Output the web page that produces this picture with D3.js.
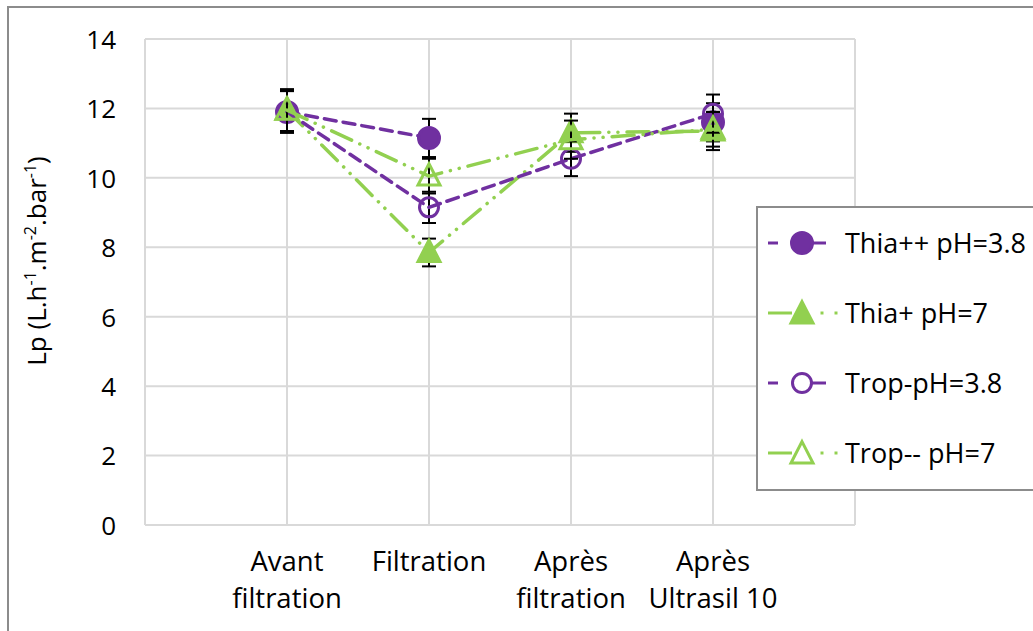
<!DOCTYPE html>
<html><head><meta charset="utf-8">
<script src="https://cdn.jsdelivr.net/npm/d3@7"></script>
<style>body{margin:0;background:#fff;}svg{display:block;font-family:"Open Sans","Noto Sans",sans-serif;}</style>
</head><body>
<svg id="c" width="1033" height="631"></svg>
<script>
const categories = [["Avant","filtration"],["Filtration"],["Après","filtration"],["Après","Ultrasil 10"]];
const yTicks = [0,2,4,6,8,10,12,14];
const thiaPP = [11.9, 11.15, null, 11.6];
const thiaPPerr = [0.6, 0.55, null, 0.55];
const thiaP = [11.95, 7.85, 11.3, 11.35];
const thiaPerr = [0.6, 0.4, 0.55, 0.55];
const tropPH = [11.9, 9.15, 10.55, 11.85];
const tropPHerr = [0.6, 0.45, 0.5, 0.55];
const tropMM = [11.95, 10.05, 11.1, 11.4];
const tropMMerr = [0.6, 0.5, 0.55, 0.5];
const seriesNames = ["Thia++ pH=3.8","Thia+ pH=7","Trop-pH=3.8","Trop-- pH=7"];

const purple = "#7030a0", green = "#92d050";
const series = [
  {name:seriesNames[0], v:thiaPP, e:thiaPPerr, color:purple, marker:"circle", fill:true, dash:"12,7"},
  {name:seriesNames[1], v:thiaP, e:thiaPerr, color:green, marker:"tri", fill:true, dash:"22,9,0.1,9,0.1,9"},
  {name:seriesNames[2], v:tropPH, e:tropPHerr, color:purple, marker:"circle", fill:false, dash:"12,7"},
  {name:seriesNames[3], v:tropMM, e:tropMMerr, color:green, marker:"tri", fill:false, dash:"22,9,0.1,9,0.1,9"}
];

const svg = d3.select("#c");
const L = 145, R = 855, T = 39, B = 525;
const idx = d3.range(categories.length);
const x = d3.scaleLinear().domain([-1, categories.length]).range([L, R]);
const y = d3.scaleLinear().domain([0, 14]).range([B, T]);

// outer border
svg.append("rect").attr("x",8).attr("y",7).attr("width",1040).attr("height",640)
  .attr("fill","none").attr("stroke","#8c8c8c").attr("stroke-width",2);

// grid
const g = svg.append("g");
g.selectAll(".hg").data(yTicks).join("line")
  .attr("x1",L).attr("x2",R).attr("y1",d=>y(d)).attr("y2",d=>y(d))
  .attr("stroke","#d9d9d9").attr("stroke-width",2);
g.selectAll(".vg").data(d3.range(-1, categories.length+1)).join("line")
  .attr("x1",d=>x(d)).attr("x2",d=>x(d)).attr("y1",T).attr("y2",B)
  .attr("stroke","#d9d9d9").attr("stroke-width",2);

// y axis
const yAxis = d3.axisLeft(y).tickValues(yTicks).tickSize(0).tickPadding(0);
const ya = svg.append("g").attr("transform",`translate(116,0)`).call(yAxis);
ya.select(".domain").remove();
ya.selectAll("text").attr("font-size",26).attr("fill","#000")
  .attr("font-family","'Open Sans','Noto Sans',sans-serif").attr("dy","0.36em");

// x labels
const xl = svg.append("g");
categories.forEach((lines,i)=>{
  const t = xl.append("text").attr("x",x(i)).attr("y",571).attr("text-anchor","middle")
    .attr("font-size",27.5).attr("fill","#000");
  lines.forEach((ln,j)=>t.append("tspan").attr("x",x(i)).attr("dy", j===0?0:37).text(ln));
});

// y title
const yt = svg.append("text").attr("transform","translate(46,261) rotate(-90)")
  .attr("text-anchor","middle").attr("font-size",26).attr("fill","#000");
yt.append("tspan").text("Lp (L.h");
yt.append("tspan").attr("font-size",16).attr("dy",-10).text("-1");
yt.append("tspan").attr("dy",10).text(".m");
yt.append("tspan").attr("font-size",16).attr("dy",-10).text("-2");
yt.append("tspan").attr("dy",10).text(".bar");
yt.append("tspan").attr("font-size",16).attr("dy",-10).text("-1");
yt.append("tspan").attr("dy",10).text(")");

function drawMarker(sel, s, cx, cy){
  if(s.marker==="circle"){
    const r = s.fill ? 10.5 : 9.5;
    sel.append("circle").attr("cx",cx).attr("cy",cy).attr("r",r)
      .attr("fill", s.fill ? s.color : "none").attr("stroke",s.color).attr("stroke-width",3);
  } else {
    const h = 20, w = 22;
    const p = [[cx, cy-h*0.62],[cx+w/2, cy+h*0.45],[cx-w/2, cy+h*0.45]];
    sel.append("path").attr("d","M"+p.map(q=>q.join(",")).join("L")+"Z")
      .attr("fill", s.fill ? s.color : "none").attr("stroke",s.color).attr("stroke-width",3)
      .attr("stroke-linejoin","miter");
  }
}

const line = d3.line().defined(d=>d.v!==null).x(d=>x(d.i)).y(d=>y(d.v));
const plot = svg.append("g");
series.forEach(s=>{
  const pts = idx.map(i=>({i, v:s.v[i], e:s.e[i]}));
  const sg = plot.append("g");
  pts.filter(d=>d.v!==null).forEach(d=>{
    const eg = sg.append("g").attr("stroke","#000").attr("stroke-width",2);
    eg.append("line").attr("x1",x(d.i)).attr("x2",x(d.i)).attr("y1",y(d.v-d.e)).attr("y2",y(d.v+d.e));
    [d.v-d.e, d.v+d.e].forEach(vv=>eg.append("line").attr("x1",x(d.i)-7).attr("x2",x(d.i)+7).attr("y1",y(vv)).attr("y2",y(vv)));
  });
  sg.append("path").datum(pts).attr("d",line).attr("fill","none")
    .attr("stroke",s.color).attr("stroke-width",3.5).attr("stroke-dasharray",s.dash).attr("stroke-linecap","round");
  pts.filter(d=>d.v!==null).forEach(d=>drawMarker(sg, s, x(d.i), y(d.v)));
});

// legend
const lg = svg.append("g");
lg.append("rect").attr("x",757).attr("y",207).attr("width",300).attr("height",283)
  .attr("fill","#fff").attr("stroke","#8c8c8c").attr("stroke-width",2);
series.forEach((s,k)=>{
  const cy = 243 + k*70;
  const row = lg.append("g");
  if(s.color===purple){
    row.append("line").attr("x1",768).attr("x2",778).attr("y1",cy).attr("y2",cy).attr("stroke",s.color).attr("stroke-width",3);
    row.append("line").attr("x1",810).attr("x2",826).attr("y1",cy).attr("y2",cy).attr("stroke",s.color).attr("stroke-width",3);
    drawMarker(row, s, 802, cy);
  } else {
    row.append("line").attr("x1",768).attr("x2",792).attr("y1",cy).attr("y2",cy).attr("stroke",s.color).attr("stroke-width",3);
    [822,836].forEach(cx=>row.append("line").attr("x1",cx-1.5).attr("x2",cx+1.5).attr("y1",cy).attr("y2",cy).attr("stroke",s.color).attr("stroke-width",3));
    drawMarker(row, s, 802, cy+1);
  }
  row.append("text").attr("x",845).attr("y",cy).attr("dy","0.36em").attr("font-size",27).attr("fill","#000").text(s.name);
});
</script>
</body></html>
